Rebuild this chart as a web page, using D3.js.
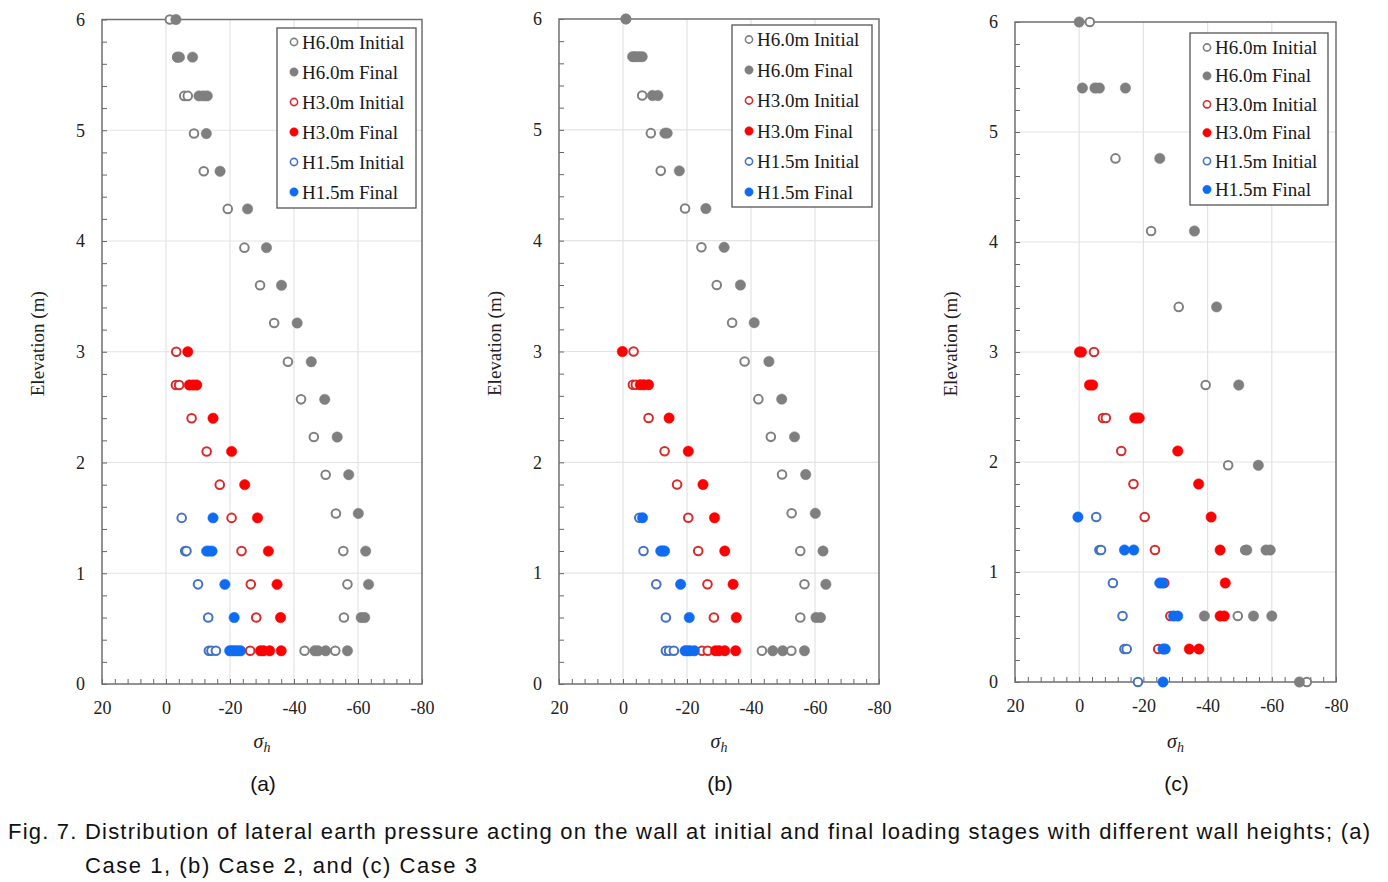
<!DOCTYPE html>
<html>
<head>
<meta charset="utf-8">
<script src="https://cdn.jsdelivr.net/npm/d3@7"></script>
<style>
  html, body { margin: 0; padding: 0; background: #ffffff; }
  svg { display: block; }
</style>
</head>
<body>
<svg id="chart" width="1388" height="882"></svg>
<script>
// ---------------- DATA ----------------
const seriesNames = ["H6.0m Initial", "H6.0m Final", "H3.0m Initial", "H3.0m Final", "H1.5m Initial", "H1.5m Final"];
const xTickLabels = [20, 0, -20, -40, -60, -80];
const yTickLabels = [0, 1, 2, 3, 4, 5, 6];
const panelLabels = ["(a)", "(b)", "(c)"];

// Each point: [sigma_h, elevation (m)]
// Case 1 (a)
const caseA_H6_initial = [[-1.2,6.0],[-3.5,5.66],[-5.7,5.31],[-6.8,5.31],[-8.75,4.97],[-11.8,4.63],[-19.3,4.29],[-24.5,3.94],[-29.4,3.6],[-33.8,3.26],[-38.1,2.91],[-42.2,2.57],[-46.2,2.23],[-49.9,1.89],[-53.1,1.54],[-55.4,1.2],[-56.7,0.9],[-55.6,0.6],[-43.3,0.3],[-52.9,0.3]];
const caseA_H6_final   = [[-3.1,6.0],[-3.6,5.66],[-4.2,5.66],[-8.3,5.66],[-10.3,5.31],[-11.7,5.31],[-12.9,5.31],[-12.6,4.97],[-16.9,4.63],[-25.5,4.29],[-31.4,3.94],[-36.1,3.6],[-41.0,3.26],[-45.4,2.91],[-49.6,2.57],[-53.5,2.23],[-57.1,1.89],[-60.1,1.54],[-62.4,1.2],[-63.3,0.9],[-61.0,0.6],[-62.1,0.6],[-46.5,0.3],[-47.5,0.3],[-49.9,0.3],[-56.7,0.3]];
const caseA_H3_initial = [[-3.2,3.0],[-3.1,2.7],[-4.1,2.7],[-8.0,2.4],[-12.7,2.1],[-16.8,1.8],[-20.5,1.5],[-23.6,1.2],[-26.5,0.9],[-28.2,0.6],[-26.3,0.3]];
const caseA_H3_final   = [[-6.8,3.0],[-7.3,2.7],[-8.5,2.7],[-9.6,2.7],[-14.7,2.4],[-20.5,2.1],[-24.6,1.8],[-28.6,1.5],[-32.0,1.2],[-34.7,0.9],[-35.8,0.6],[-29.5,0.3],[-30.5,0.3],[-32.4,0.3],[-36.0,0.3]];
const caseA_H15_initial = [[-4.9,1.5],[-6.0,1.2],[-6.4,1.2],[-10.0,0.9],[-13.2,0.6],[-13.4,0.3],[-14.2,0.3],[-15.6,0.3]];
const caseA_H15_final   = [[-14.7,1.5],[-12.7,1.2],[-13.5,1.2],[-14.4,1.2],[-18.4,0.9],[-21.3,0.6],[-19.9,0.3],[-20.7,0.3],[-21.5,0.3],[-22.4,0.3],[-23.3,0.3]];

// Case 2 (b)
const caseB_H6_initial = [[-0.9,6.0],[-3.5,5.66],[-6.0,5.31],[-8.7,4.97],[-11.8,4.63],[-19.4,4.29],[-24.5,3.94],[-29.3,3.6],[-34.1,3.26],[-38.0,2.91],[-42.3,2.57],[-46.2,2.23],[-49.7,1.89],[-52.7,1.54],[-55.4,1.2],[-56.7,0.9],[-55.4,0.6],[-43.4,0.3],[-52.6,0.3]];
const caseB_H6_final   = [[-0.9,6.0],[-3.0,5.66],[-4.0,5.66],[-5.0,5.66],[-6.0,5.66],[-9.2,5.31],[-10.9,5.31],[-13.1,4.97],[-13.8,4.97],[-17.6,4.63],[-25.9,4.29],[-31.6,3.94],[-36.7,3.6],[-41.0,3.26],[-45.6,2.91],[-49.6,2.57],[-53.6,2.23],[-57.1,1.89],[-60.1,1.54],[-62.5,1.2],[-63.4,0.9],[-60.3,0.6],[-61.7,0.6],[-46.8,0.3],[-49.9,0.3],[-56.7,0.3]];
const caseB_H3_initial = [[-3.3,3.0],[-3.1,2.7],[-4.0,2.7],[-8.0,2.4],[-13.0,2.1],[-16.9,1.8],[-20.4,1.5],[-23.5,1.2],[-26.4,0.9],[-28.4,0.6],[-24.7,0.3],[-26.5,0.3]];
const caseB_H3_final   = [[0.2,3.0],[-5.4,2.7],[-6.5,2.7],[-8.0,2.7],[-14.4,2.4],[-20.4,2.1],[-25.0,1.8],[-28.6,1.5],[-31.8,1.2],[-34.4,0.9],[-35.4,0.6],[-28.9,0.3],[-30.0,0.3],[-31.8,0.3],[-35.2,0.3]];
const caseB_H15_initial = [[-5.1,1.5],[-6.4,1.2],[-10.4,0.9],[-13.4,0.6],[-13.4,0.3],[-14.4,0.3],[-15.9,0.3]];
const caseB_H15_final   = [[-6.1,1.5],[-11.8,1.2],[-12.4,1.2],[-13.0,1.2],[-18.0,0.9],[-20.7,0.6],[-19.4,0.3],[-20.2,0.3],[-21.0,0.3],[-22.3,0.3]];

// Case 3 (c)
const caseC_H6_initial = [[-3.3,6.0],[-5.5,5.4],[-11.3,4.76],[-22.4,4.1],[-31.0,3.41],[-39.4,2.7],[-46.4,1.97],[-51.7,1.2],[-49.4,0.6],[-70.9,0.0]];
const caseC_H6_final   = [[0.0,6.0],[-1.0,5.4],[-4.9,5.4],[-6.3,5.4],[-14.4,5.4],[-25.1,4.76],[-35.9,4.1],[-42.8,3.41],[-49.7,2.7],[-55.8,1.97],[-52.2,1.2],[-58.2,1.2],[-59.5,1.2],[-39.0,0.6],[-54.3,0.6],[-60.0,0.6],[-68.6,0.0]];
const caseC_H3_initial = [[-4.6,3.0],[-3.7,2.7],[-7.4,2.4],[-8.3,2.4],[-13.1,2.1],[-16.9,1.8],[-20.4,1.5],[-23.6,1.2],[-26.5,0.9],[-28.4,0.6],[-24.6,0.3]];
const caseC_H3_final   = [[-0.1,3.0],[-0.7,3.0],[-3.2,2.7],[-4.2,2.7],[-17.3,2.4],[-18.0,2.4],[-18.7,2.4],[-30.7,2.1],[-37.2,1.8],[-41.1,1.5],[-43.9,1.2],[-45.5,0.9],[-43.9,0.6],[-45.2,0.6],[-34.3,0.3],[-37.3,0.3]];
const caseC_H15_initial = [[-5.3,1.5],[-6.3,1.2],[-6.8,1.2],[-10.5,0.9],[-13.5,0.6],[-14.1,0.3],[-14.8,0.3],[-18.3,0.0]];
const caseC_H15_final   = [[0.4,1.5],[-14.1,1.2],[-17.0,1.2],[-25.1,0.9],[-26.0,0.9],[-29.4,0.6],[-30.7,0.6],[-26.1,0.3],[-26.8,0.3],[-26.1,0.0]];

// ---------------- STYLE / LAYOUT ----------------
const styles = [
  {filled:false, color:"#808080"},
  {filled:true,  color:"#7f7f7f"},
  {filled:false, color:"#d92b2b"},
  {filled:true,  color:"#ff0000"},
  {filled:false, color:"#4472c4"},
  {filled:true,  color:"#0f6cf2"}
];

const panels = [
  {left:102, right:422, top:19.5, bottom:684, leg:{x:277, y:28, w:139, h:180, row0:14, step:30}, ylabX:40,
   series:[caseA_H6_initial, caseA_H6_final, caseA_H3_initial, caseA_H3_final, caseA_H15_initial, caseA_H15_final]},
  {left:559, right:879, top:19, bottom:684, leg:{x:732, y:25, w:140, h:182, row0:14.5, step:30.5}, ylabX:497,
   series:[caseB_H6_initial, caseB_H6_final, caseB_H3_initial, caseB_H3_final, caseB_H15_initial, caseB_H15_final]},
  {left:1015, right:1336, top:22, bottom:682, leg:{x:1190, y:33, w:138, h:172, row0:14.5, step:28.4}, ylabX:953,
   series:[caseC_H6_initial, caseC_H6_final, caseC_H3_initial, caseC_H3_final, caseC_H15_initial, caseC_H15_final]}
];

const svg = d3.select("#chart");
const serif = "'Liberation Serif', 'Times New Roman', serif";
const sans = "'Liberation Sans', Arial, sans-serif";

panels.forEach((p, pi) => {
  const w = p.right - p.left, h = p.bottom - p.top;
  const x = d3.scaleLinear().domain([20, -80]).range([0, w]);
  const y = d3.scaleLinear().domain([0, 6]).range([h, 0]);
  const g = svg.append("g").attr("transform", `translate(${p.left},${p.top})`);

  // grid
  g.append("g").selectAll("line.gx").data(xTickLabels.filter(v => v !== 20 && v !== -80))
    .join("line").attr("x1", d => x(d)).attr("x2", d => x(d)).attr("y1", 0).attr("y2", h)
    .attr("stroke", "#e3e3e3").attr("stroke-width", 1.2);
  g.append("g").selectAll("line.gy").data(yTickLabels.filter(v => v !== 0 && v !== 6))
    .join("line").attr("x1", 0).attr("x2", w).attr("y1", d => y(d)).attr("y2", d => y(d))
    .attr("stroke", "#e3e3e3").attr("stroke-width", 1.2);

  // x axis
  const xMinor = d3.range(0, 26).map(i => 20 - 4 * i);
  const xa = g.append("g").attr("transform", `translate(0,${h})`)
    .call(d3.axisBottom(x).tickValues(xMinor).tickSize(-5).tickPadding(17)
      .tickFormat(d => xTickLabels.includes(d) ? String(d) : ""));
  xa.select(".domain").remove();
  xa.selectAll(".tick line").attr("stroke", "#666").attr("stroke-width", 1);
  xa.selectAll(".tick text").attr("font-family", serif).attr("font-size", 18).attr("fill", "#222");

  // y axis
  const yMinor = d3.range(0, 31).map(i => i / 5);
  const ya = g.append("g")
    .call(d3.axisLeft(y).tickValues(yMinor).tickSize(-5).tickPadding(17)
      .tickFormat(d => Number.isInteger(d) && yTickLabels.includes(d) ? String(d) : ""));
  ya.select(".domain").remove();
  ya.selectAll(".tick line").attr("stroke", "#666").attr("stroke-width", 1);
  ya.selectAll(".tick text").attr("font-family", serif).attr("font-size", 18).attr("fill", "#222");

  // frame
  g.append("rect").attr("x", 0).attr("y", 0).attr("width", w).attr("height", h)
    .attr("fill", "none").attr("stroke", "#6f6f6f").attr("stroke-width", 1.5);

  // points
  p.series.forEach((data, si) => {
    const st = styles[si];
    g.append("g").selectAll("circle").data(data).join("circle")
      .attr("cx", d => x(d[0])).attr("cy", d => y(d[1]))
      .attr("r", st.filled ? 5.2 : 4.3)
      .attr("fill", st.filled ? st.color : "#ffffff")
      .attr("stroke", st.color)
      .attr("stroke-width", st.filled ? 0.5 : 2);
  });

  // legend
  const L = p.leg;
  const lg = svg.append("g").attr("transform", `translate(${L.x},${L.y})`);
  lg.append("rect").attr("width", L.w).attr("height", L.h).attr("fill", "#ffffff")
    .attr("stroke", "#555").attr("stroke-width", 1.3);
  seriesNames.forEach((name, si) => {
    const st = styles[si];
    const cy = L.row0 + si * L.step;
    lg.append("circle").attr("cx", 17).attr("cy", cy).attr("r", st.filled ? 4.2 : 3.6)
      .attr("fill", st.filled ? st.color : "#fff").attr("stroke", st.color)
      .attr("stroke-width", st.filled ? 0.5 : 1.6);
    lg.append("text").attr("x", 25).attr("y", cy + 6.5).text(name)
      .attr("font-family", serif).attr("font-size", 19).attr("fill", "#1a1a1a");
  });

  // axis titles
  svg.append("text")
    .attr("transform", `translate(${p.ylabX},${(p.top + p.bottom) / 2 - 8}) rotate(-90)`)
    .attr("text-anchor", "middle").attr("dominant-baseline", "middle")
    .attr("font-family", serif).attr("font-size", 19).attr("fill", "#222")
    .text("Elevation (m)");

  const cx = (p.left + p.right) / 2;
  const xl = svg.append("text").attr("x", cx).attr("y", 748).attr("text-anchor", "middle")
    .attr("font-family", serif).attr("font-size", 20).attr("font-style", "italic").attr("fill", "#222");
  xl.append("tspan").text("σ");
  xl.append("tspan").text("h").attr("font-size", 14).attr("dy", 4);

  svg.append("text").attr("x", cx + 1).attr("y", 791).attr("text-anchor", "middle")
    .attr("font-family", sans).attr("font-size", 21).attr("fill", "#111")
    .text(panelLabels[pi]);
});

// caption
svg.append("text").attr("x", 8).attr("y", 839)
  .attr("font-family", sans).attr("font-size", 22).attr("fill", "#111")
  .attr("textLength", 1362).attr("lengthAdjust", "spacing")
  .text("Fig. 7. Distribution of lateral earth pressure acting on the wall at initial and final loading stages with different wall heights; (a)");
svg.append("text").attr("x", 85).attr("y", 873)
  .attr("font-family", sans).attr("font-size", 22).attr("fill", "#111")
  .attr("textLength", 392).attr("lengthAdjust", "spacing")
  .text("Case 1, (b) Case 2, and (c) Case 3");
</script>
</body>
</html>
